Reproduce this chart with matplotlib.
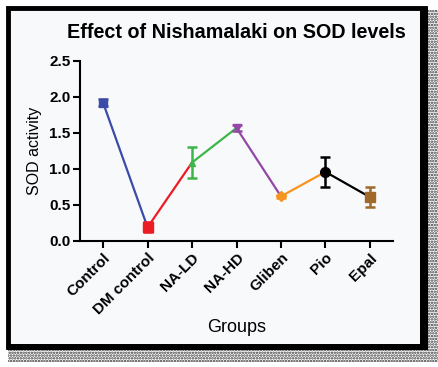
import matplotlib
matplotlib.use("Agg")
import matplotlib.pyplot as plt
from matplotlib.patches import Rectangle

groups = ["Control", "DM control", "NA-LD", "NA-HD", "Gliben", "Pio", "Epal"]
sod = [1.92, 0.19, 1.09, 1.57, 0.62, 0.96, 0.61]
sod_err = [0.05, 0.07, 0.21, 0.04, 0.02, 0.21, 0.14]
colors = ["#3B4CA8", "#EC1C24", "#3DB649", "#9447A6", "#F7941D", "#000000", "#A0692A"]
markers = ["s", "s", "^", "v", "D", "o", "s"]
msizes = [6, 7, 4, 6, 5, 7, 7]
yticks = [0.0, 0.5, 1.0, 1.5, 2.0, 2.5]

plt.rcParams["hatch.linewidth"] = 1.2

W, H = 439, 367
fig = plt.figure(figsize=(W / 100, H / 100), dpi=100)
fig.patch.set_facecolor("white")

def px(x0, y0, x1, y1):
    return (x0 / W, 1 - y1 / H, (x1 - x0) / W, (y1 - y0) / H)

# dotted shadow
for (x0, y0, x1, y1) in [(424, 10, 438, 362), (8, 347, 438, 362)]:
    l, b, w, h = px(x0, y0, x1, y1)
    fig.patches.append(Rectangle((l, b), w, h, transform=fig.transFigure,
                                 facecolor="white", edgecolor="#333333",
                                 hatch="......", lw=0, zorder=0))
# frame
l, b, w, h = px(8, 8, 425, 347)
fig.patches.append(Rectangle((l, b), w, h, transform=fig.transFigure,
                             facecolor="#F8F9FB", edgecolor="black", lw=3.5, zorder=1))
# thicker right/bottom shadow edge
l, b, w, h = px(420, 8, 428, 350)
fig.patches.append(Rectangle((l, b), w, h, transform=fig.transFigure,
                             facecolor="black", edgecolor="none", zorder=1))
l, b, w, h = px(8, 344, 428, 350)
fig.patches.append(Rectangle((l, b), w, h, transform=fig.transFigure,
                             facecolor="black", edgecolor="none", zorder=1))

ax = fig.add_axes(px(80, 61, 393, 241))
ax.set_facecolor("none")
ax.set_zorder(2)

x = list(range(len(groups)))
for i in range(len(groups) - 1):
    ax.plot([x[i], x[i + 1]], [sod[i], sod[i + 1]], color=colors[i], lw=1.6, zorder=2)
for i in range(len(groups)):
    ax.errorbar(x[i], sod[i], yerr=sod_err[i], color=colors[i], ecolor=colors[i],
                marker=markers[i], markersize=msizes[i], capsize=3.5, elinewidth=1.8,
                capthick=1.8, zorder=3)

ax.set_xlim(-0.52, 6.52)
ax.set_ylim(0, 2.5)
ax.set_yticks(yticks)
ax.set_yticklabels([f"{v:.1f}" for v in yticks], fontweight="bold", fontsize=11,
                   family="Liberation Sans")
ax.set_xticks(x)
ax.set_xticklabels(groups, rotation=45, ha="right", rotation_mode="anchor",
                   fontweight="bold", fontsize=11, family="Liberation Sans")
for s in ["top", "right"]:
    ax.spines[s].set_visible(False)
for s in ["left", "bottom"]:
    ax.spines[s].set_linewidth(1.5)
ax.tick_params(axis="both", direction="out", length=5, width=1.5, pad=2)

ax.set_ylabel("SOD activity", fontsize=11.5, family="Liberation Sans", labelpad=5)
fig.text(237 / W, 1 - 327 / H, "Groups", ha="center", va="center", fontsize=13,
         family="Liberation Sans")
fig.text(236 / W, 1 - 33 / H, "Effect of Nishamalaki on SOD levels", ha="center",
         va="center", fontsize=14.2, fontweight="bold", family="Liberation Sans")

fig.savefig("out.png", dpi=100)
